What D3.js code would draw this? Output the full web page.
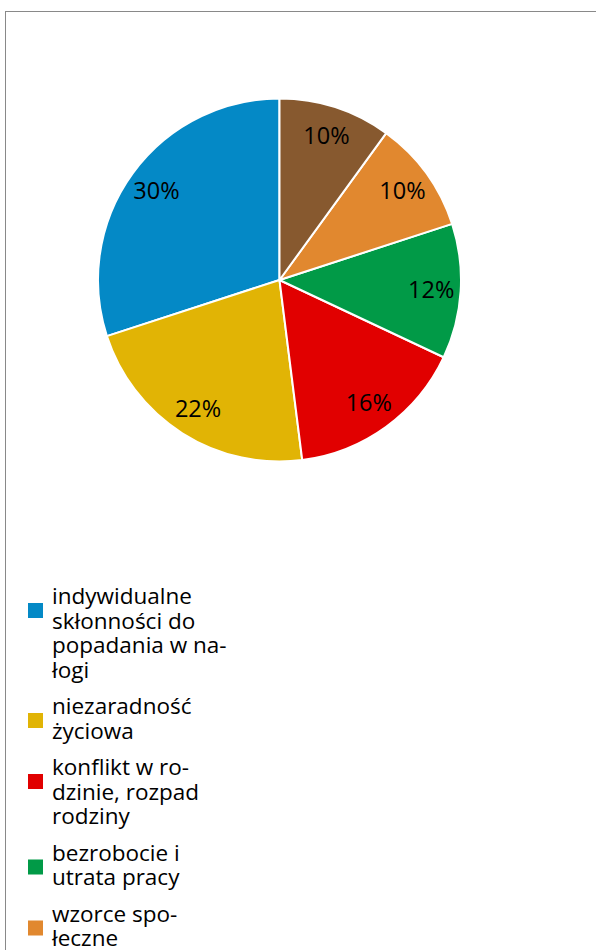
<!DOCTYPE html>
<html>
<head>
<meta charset="utf-8">
<script src="https://cdn.jsdelivr.net/npm/d3@7"></script>
<style>
  body { margin: 0; background: #fff; }
  svg { display: block; }
</style>
</head>
<body>
<svg class="pie-chart"></svg>
<script>
  const viewportWidth = 596
  const viewportHeight = 950

  // DATA (legend order, the pie runs counter-clockwise from 12 o'clock)
  const categories = [
    'indywidualne skłonności do popadania w nałogi',
    'niezaradność życiowa',
    'konflikt w rodzinie, rozpad rodziny',
    'bezrobocie i utrata pracy',
    'wzorce społeczne',
    'inne'
  ]
  const shares = [30, 22, 16, 12, 10, 10]
  const sliceColors = ['#0489c6', '#e1b405', '#e10000', '#019a47', '#e1882f', '#87592f']
  // wrapped legend text as it shows in the picture
  const legendLines = [
    ['indywidualne', 'skłonności do', 'popadania w na-', 'łogi'],
    ['niezaradność', 'życiowa'],
    ['konflikt w ro-', 'dzinie, rozpad', 'rodziny'],
    ['bezrobocie i', 'utrata pracy'],
    ['wzorce spo-', 'łeczne'],
    ['inne']
  ]

  const svg = d3.select('svg.pie-chart')
    .attr('width', viewportWidth)
    .attr('height', viewportHeight)

  // chart frame, right and bottom edges fall outside the window
  svg.append('rect')
    .attr('x', 5.5)
    .attr('y', 11.5)
    .attr('width', 700)
    .attr('height', 1100)
    .attr('fill', 'none')
    .attr('stroke', '#898989')
    .attr('stroke-width', 1)

  const CX = 279.5
  const CY = 280
  const RADIUS = 181.5
  const LABEL_RADIUS = 152

  const pie = d3.pie()
    .sort(null)
    .startAngle(0)
    .endAngle(-2 * Math.PI)

  const slices = pie(shares).map((d, i) => Object.assign(d, { category: categories[i], color: sliceColors[i] }))

  const arc = d3.arc().innerRadius(0).outerRadius(RADIUS)
  const labelArc = d3.arc().innerRadius(LABEL_RADIUS).outerRadius(LABEL_RADIUS)

  const pieGroup = svg.append('g')
    .attr('transform', 'translate(' + CX + ',' + CY + ')')

  pieGroup.selectAll('path.slice')
    .data(slices)
    .enter()
    .append('path')
    .attr('class', 'slice')
    .attr('d', arc)
    .attr('fill', d => d.color)
    .attr('stroke', '#fff')
    .attr('stroke-width', 2)
    .attr('stroke-linejoin', 'round')

  pieGroup.selectAll('text.pct')
    .data(slices)
    .enter()
    .append('text')
    .attr('class', 'pct')
    .attr('transform', d => 'translate(' + labelArc.centroid(d) + ')')
    .attr('dy', '0.36em')
    .attr('text-anchor', 'middle')
    .style('font-family', '"Open Sans", sans-serif')
    .style('font-size', '23.5px')
    .style('fill', '#000')
    .text(d => d.value + '%')

  // LEGEND
  const LEGEND_X = 28
  const TEXT_X = 52
  const FIRST_BASELINE = 604
  const LINE_PITCH = 24.5
  const ITEM_GAP = 12
  const KEY_SIZE = 15

  let baseline = FIRST_BASELINE
  const legendItems = legendLines.map((lines, i) => {
    const item = { lines: lines, color: sliceColors[i], y: baseline }
    baseline += lines.length * LINE_PITCH + ITEM_GAP
    return item
  })

  const legend = svg.append('g').attr('class', 'legend')
  const entries = legend.selectAll('g.entry')
    .data(legendItems)
    .enter()
    .append('g')
    .attr('class', 'entry')

  entries.append('rect')
    .attr('x', LEGEND_X)
    .attr('y', d => d.y - 1)
    .attr('width', KEY_SIZE)
    .attr('height', KEY_SIZE)
    .attr('fill', d => d.color)

  entries.append('text')
    .attr('x', TEXT_X)
    .attr('y', d => d.y)
    .style('font-family', '"Open Sans", sans-serif')
    .style('font-size', '22.5px')
    .style('fill', '#000')
    .selectAll('tspan')
    .data(d => d.lines)
    .enter()
    .append('tspan')
    .attr('x', TEXT_X)
    .attr('dy', (d, i) => i === 0 ? 0 : LINE_PITCH)
    .text(d => d)
</script>
</body>
</html>
